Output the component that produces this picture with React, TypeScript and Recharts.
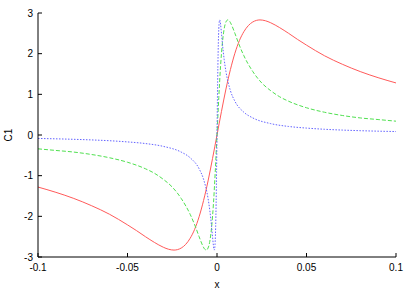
import React from "react";
import { LineChart, Line, XAxis, YAxis } from "recharts";

const xTicks = [-0.1, -0.05, 0, 0.05, 0.1];
const yTicks = [-3, -2, -1, 0, 1, 2, 3];

const redX = [-0.1, -0.09, -0.08, -0.07, -0.06, -0.05, -0.045, -0.04, -0.035, -0.03, -0.027, -0.024, -0.02, -0.0175, -0.015, -0.0125, -0.01, -0.0075, -0.005, -0.0025, 0,
  0.0025, 0.005, 0.0075, 0.01, 0.0125, 0.015, 0.0175, 0.02, 0.024, 0.027, 0.03, 0.035, 0.04, 0.045, 0.05, 0.06, 0.07, 0.08, 0.09, 0.1];
const redY = [-1.28, -1.41, -1.56, -1.74, -1.95, -2.21, -2.35, -2.5, -2.64, -2.76, -2.81, -2.83, -2.78, -2.69, -2.54, -2.32, -2.01, -1.61, -1.13, -0.58, 0,
  0.58, 1.13, 1.61, 2.01, 2.32, 2.54, 2.69, 2.78, 2.83, 2.81, 2.76, 2.64, 2.5, 2.35, 2.21, 1.95, 1.74, 1.56, 1.41, 1.28];

const greenX = [-0.1, -0.09, -0.08, -0.07, -0.06, -0.05, -0.04, -0.035, -0.03, -0.025, -0.02, -0.015, -0.012, -0.01, -0.008, -0.007, -0.006, -0.005, -0.004, -0.003, -0.002, -0.001, 0,
  0.001, 0.002, 0.003, 0.004, 0.005, 0.006, 0.007, 0.008, 0.01, 0.012, 0.015, 0.02, 0.025, 0.03, 0.035, 0.04, 0.05, 0.06, 0.07, 0.08, 0.09, 0.1];
const greenY = [-0.34, -0.38, -0.42, -0.48, -0.56, -0.67, -0.83, -0.94, -1.09, -1.28, -1.56, -1.95, -2.26, -2.5, -2.72, -2.8, -2.83, -2.78, -2.61, -2.26, -1.7, -0.92, 0,
  0.92, 1.7, 2.26, 2.61, 2.78, 2.83, 2.8, 2.72, 2.5, 2.26, 1.95, 1.56, 1.28, 1.09, 0.94, 0.83, 0.67, 0.56, 0.48, 0.42, 0.38, 0.34];

const blueX = [-0.1, -0.09, -0.08, -0.07, -0.06, -0.05, -0.04, -0.03, -0.02, -0.015, -0.01, -0.0075, -0.005, -0.004, -0.003, -0.0025, -0.002, -0.00175, -0.0015, -0.00125, -0.001, -0.00075, -0.0005, -0.00025, 0,
  0.00025, 0.0005, 0.00075, 0.001, 0.00125, 0.0015, 0.00175, 0.002, 0.0025, 0.003, 0.004, 0.005, 0.0075, 0.01, 0.015, 0.02, 0.03, 0.04, 0.05, 0.06, 0.07, 0.08, 0.09, 0.1];
const blueY = [-0.085, -0.094, -0.106, -0.121, -0.141, -0.17, -0.21, -0.28, -0.42, -0.56, -0.83, -1.09, -1.56, -1.86, -2.26, -2.5, -2.72, -2.8, -2.83, -2.78, -2.61, -2.26, -1.7, -0.92, 0,
  0.92, 1.7, 2.26, 2.61, 2.78, 2.83, 2.8, 2.72, 2.5, 2.26, 1.86, 1.56, 1.09, 0.83, 0.56, 0.42, 0.28, 0.21, 0.17, 0.141, 0.121, 0.106, 0.094, 0.085];

const pair = (xs: number[], ys: number[]) => xs.map((x, i) => ({ x, y: ys[i] }));
const redData = pair(redX, redY);
const greenData = pair(greenX, greenY);
const blueData = pair(blueX, blueY);

const font = { fontFamily: "Liberation Sans, Arial, sans-serif", fontSize: 10, fill: "#000" };

export default function App() {
  return (
    <div style={{ position: "absolute", left: 0, top: 0, background: "#fff" }}>
      <LineChart width={415} height={291} margin={{ top: 13, right: 19, bottom: 0, left: 0 }}>
        <XAxis
          xAxisId="b"
          type="number"
          dataKey="x"
          domain={[-0.1, 0.1]}
          ticks={xTicks}
          height={34}
          stroke="#000"
          tickSize={-4}
          tickMargin={11}
          tick={font}
          tickLine={{ stroke: "#000" }}
          axisLine={{ stroke: "#000" }}
          allowDataOverflow
          label={{ value: "x", position: "insideBottom", offset: 3, style: font }}
        />
        <XAxis
          xAxisId="t"
          orientation="top"
          type="number"
          dataKey="x"
          domain={[-0.1, 0.1]}
          ticks={xTicks}
          height={0}
          stroke="#000"
          tickSize={-4}
          tick={false}
          allowDataOverflow
        />
        <YAxis
          yAxisId="l"
          type="number"
          domain={[-3, 3]}
          ticks={yTicks}
          width={38}
          stroke="#000"
          tickSize={-4}
          tickMargin={9}
          tick={font}
          allowDataOverflow
          label={{ value: "C1", angle: -90, position: "insideLeft", offset: 8, style: { ...font, textAnchor: "middle" } }}
        />
        <YAxis
          yAxisId="r"
          orientation="right"
          type="number"
          domain={[-3, 3]}
          ticks={yTicks}
          width={0}
          stroke="#000"
          tickSize={-4}
          tick={false}
          allowDataOverflow
        />
        <Line xAxisId="b" yAxisId="l" data={redData} dataKey="y" type="monotone" stroke="#ff5a5a" strokeWidth={1} dot={false} isAnimationActive={false} />
        <Line xAxisId="b" yAxisId="l" data={greenData} dataKey="y" type="monotone" stroke="#50e050" strokeWidth={1} strokeDasharray="4 2" dot={false} isAnimationActive={false} />
        <Line xAxisId="b" yAxisId="l" data={blueData} dataKey="y" type="monotone" stroke="#6464ff" strokeWidth={1} strokeDasharray="1.5 1.5" dot={false} isAnimationActive={false} />
      </LineChart>
    </div>
  );
}
